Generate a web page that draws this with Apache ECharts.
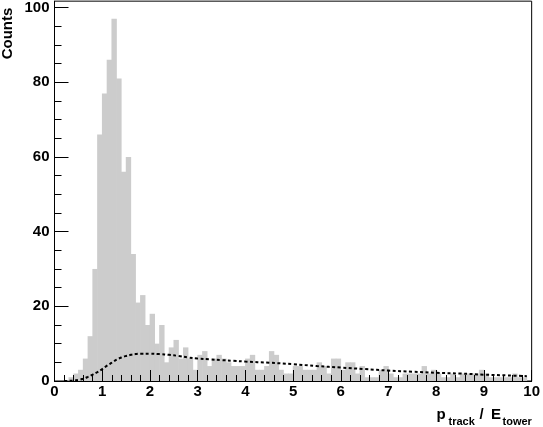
<!DOCTYPE html>
<html>
<head>
<meta charset="utf-8">
<script src="https://cdn.jsdelivr.net/npm/echarts@6/dist/echarts.min.js"></script>
<style>
html,body{margin:0;padding:0;background:#fff;}
#chart{width:543px;height:427px;}
</style>
</head>
<body>
<div id="chart"></div>
<script>
// Histogram: 100 bins of width 0.1 from 0 to 10
const binLow = 0;
const binWidth = 0.1;
const counts = [
  0,0,0,1,2,3,6,12,30,66,
  77,86,97,81,56,60,34,21,23,15,
  18,10,15,5,9,11,6,9,6,3,
  7,8,4,6,7,6,5,4,4,4,
  6,7,3,3,4,8,7,3,2,2,
  4,4,3,3,3,5,4,2,6,6,
  3,5,5,2,4,1,1,1,3,4,
  2,1,1,2,2,2,2,4,2,3,
  2,1,1,2,1,2,2,2,2,3,
  2,1,1,1,1,1,2,1,1,0
];
// Dashed fit curve
const curveX = [0.2,0.4,0.5,0.6,0.7,0.8,0.9,1.0,1.1,1.2,1.3,1.4,1.5,1.6,1.7,1.8,2.0,2.2,2.4,2.6,2.8,3.0,3.25,3.5,3.75,4.0,4.5,5.0,5.5,6.0,6.5,7.0,7.5,8.0,8.5,9.0,9.5,9.9];
const curveY = [0,0.1,0.3,0.6,1.1,1.7,2.4,3.2,4.1,4.9,5.7,6.3,6.7,7.0,7.2,7.3,7.3,7.2,7.0,6.7,6.3,6.0,5.8,5.6,5.4,5.2,4.9,4.5,4.0,3.6,3.2,2.8,2.5,2.2,2.0,1.7,1.5,1.3];
// Axis ticks
const yMajorTicks = [0,20,40,60,80,100];
const yMinorTicks = [0,5,10,15,20,25,30,35,40,45,50,55,60,65,70,75,80,85,90,95,100];
const yLabels = [0,20,40,60,80,100];
const xMin = 0, xMax = 10, xInterval = 1;
const yMin = 0, yMax = 101.7;

const histData = counts.map((c, i) => [
  +(binLow + i * binWidth).toFixed(2),
  +(binLow + (i + 1) * binWidth).toFixed(2),
  c
]);
const curveData = curveX.map((x, i) => [x, curveY[i]]);

const FONT = "'Liberation Sans', Arial, Helvetica, sans-serif";
const chart = echarts.init(document.getElementById('chart'), null, {renderer: 'canvas'});
chart.setOption({
  animation: false,
  backgroundColor: '#fff',
  grid: {left: 54.5, width: 478, top: 1, height: 380, show: true, borderColor: '#000', borderWidth: 1, backgroundColor: 'transparent'},
  xAxis: {
    type: 'value', min: xMin, max: xMax, interval: xInterval, z: 5,
    axisLine: {show: true, onZero: false, lineStyle: {color: '#000', width: 1}},
    axisTick: {show: true, inside: true, length: 11, lineStyle: {color: '#000', width: 1}},
    minorTick: {show: true, splitNumber: 5, length: 6, lineStyle: {color: '#000', width: 1}},
    splitLine: {show: false},
    axisLabel: {color: '#000', fontFamily: FONT, fontWeight: 'bold', fontSize: 15, margin: 3}
  },
  yAxis: [{
    type: 'value', min: yMin, max: yMax, position: 'left', z: 5,
    axisLine: {show: true, lineStyle: {color: '#000', width: 1}},
    axisTick: {show: true, inside: true, length: 7, customValues: yMinorTicks, lineStyle: {color: '#000', width: 1}},
    splitLine: {show: false},
    axisLabel: {color: '#000', fontFamily: FONT, fontWeight: 'bold', fontSize: 15, margin: 5, customValues: yLabels}
  }, {
    type: 'value', min: yMin, max: yMax, position: 'left', offset: 0, z: 5,
    axisLine: {show: false},
    axisTick: {show: true, inside: true, length: 14, customValues: yMajorTicks, lineStyle: {color: '#000', width: 1}},
    splitLine: {show: false},
    axisLabel: {show: false}
  }],
  series: [{
    type: 'custom',
    yAxisIndex: 0,
    z: 2,
    encode: {x: [0, 1], y: 2},
    data: histData,
    renderItem: function (params, api) {
      const p0 = api.coord([api.value(0), 0]);
      const p1 = api.coord([api.value(1), api.value(2)]);
      return {
        type: 'rect',
        shape: {x: p0[0] - 0.3, y: p1[1], width: p1[0] - p0[0] + 0.6, height: p0[1] - p1[1]},
        style: {fill: '#cccccc', stroke: null}
      };
    }
  }, {
    type: 'line',
    yAxisIndex: 0,
    z: 3,
    data: curveData,
    smooth: 0.4,
    symbol: 'none',
    lineStyle: {color: '#000', width: 2, type: [3, 2.5]}
  }],
  graphic: [
    {type: 'text', x: 8, y: 33.5, rotation: Math.PI / 2,
     style: {text: 'Counts', fill: '#000', font: "bold 15px " + FONT, align: 'center', verticalAlign: 'middle'}},
    {type: 'text', x: 436.5, y: 415,
     style: {text: 'p', fill: '#000', font: "bold 15px " + FONT, align: 'left', verticalAlign: 'middle'}},
    {type: 'text', x: 448.5, y: 421.5,
     style: {text: 'track', fill: '#000', font: "bold 11px " + FONT, align: 'left', verticalAlign: 'middle'}},
    {type: 'text', x: 479.5, y: 415,
     style: {text: '/', fill: '#000', font: "bold 15px " + FONT, align: 'left', verticalAlign: 'middle'}},
    {type: 'text', x: 491, y: 415,
     style: {text: 'E', fill: '#000', font: "bold 15px " + FONT, align: 'left', verticalAlign: 'middle'}},
    {type: 'text', x: 502.5, y: 421.5,
     style: {text: 'tower', fill: '#000', font: "bold 11px " + FONT, align: 'left', verticalAlign: 'middle'}}
  ]
});
</script>
</body>
</html>
